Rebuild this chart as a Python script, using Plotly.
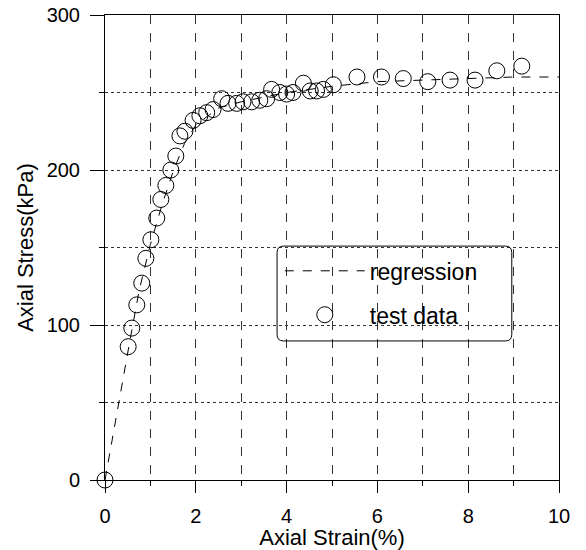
import plotly.graph_objects as go

# test data (axial strain %, axial stress kPa)
strain = [0.0, 0.51, 0.59, 0.70, 0.81, 0.90, 1.01, 1.14, 1.23, 1.34, 1.45, 1.56, 1.65, 1.76,
          1.94, 2.09, 2.24, 2.38, 2.57, 2.71, 2.90, 3.04, 3.23, 3.41, 3.56, 3.67, 3.85, 4.00,
          4.14, 4.37, 4.52, 4.66, 4.81, 5.03, 5.55, 6.09, 6.57, 7.11, 7.60, 8.15, 8.63, 9.18]
stress = [0, 86, 98, 113, 127, 143, 155, 169, 181, 190, 200, 209, 222, 225,
          232, 235, 237, 239, 246, 243, 243, 244, 244, 245, 246, 252, 250, 249,
          250, 256, 251, 251, 252, 255, 260, 260, 259, 257, 258, 258, 264, 267]

# regression curve
reg_x = [0, 0.25, 0.5, 0.75, 1.0, 1.25, 1.5, 1.75, 2.0, 2.5, 3.0, 4.0, 5.0, 6.0, 7.0, 8.0, 9.0, 10.0]
reg_y = [0, 42, 82, 122, 152, 177, 199, 217, 229, 240, 244, 250, 254, 257, 258, 259, 260, 260]

x_ticks = [0, 2, 4, 6, 8, 10]
y_ticks = [0, 100, 200, 300]

FONT = "Liberation Sans, Arial, sans-serif"

fig = go.Figure()
fig.add_trace(go.Scatter(x=reg_x, y=reg_y, mode="lines", name="regression", legendgroup="a",
                         line=dict(color="black", width=1, dash="dash"), cliponaxis=False))
fig.add_trace(go.Scatter(x=strain, y=stress, mode="markers", name="test data", legendgroup="b",
                         marker=dict(symbol="circle-open", size=16, color="black",
                                     line=dict(width=1, color="black")),
                         cliponaxis=False))

axis_font = dict(family=FONT, size=22, color="black")
tick_font = dict(family=FONT, size=20, color="black")
grid_col = "#333333"

# rounded legend frame (paper coordinates)
x0, x1, y0, y1, rx, ry = 0.379, 0.896, 0.299, 0.503, 0.014, 0.014
path = (f"M {x0+rx},{y1} L {x1-rx},{y1} Q {x1},{y1} {x1},{y1-ry} "
        f"L {x1},{y0+ry} Q {x1},{y0} {x1-rx},{y0} L {x0+rx},{y0} "
        f"Q {x0},{y0} {x0},{y0+ry} L {x0},{y1-ry} Q {x0},{y1} {x0+rx},{y1} Z")

fig.update_layout(
    width=586, height=550,
    margin=dict(l=105, r=27, t=15, b=70),
    paper_bgcolor="white", plot_bgcolor="white",
    showlegend=True,
    shapes=[dict(type="path", xref="paper", yref="paper", path=path,
                 line=dict(color="black", width=1), fillcolor="rgba(0,0,0,0)")],
    legend=dict(x=0.385, y=0.496, xanchor="left", yanchor="top",
                borderwidth=0, bgcolor="rgba(0,0,0,0)",
                font=dict(family=FONT, size=23, color="black"),
                itemwidth=80, tracegroupgap=11),
    xaxis=dict(range=[0, 10], tickvals=x_ticks, ticktext=[str(v) for v in x_ticks],
               automargin=False,
               showline=True, linecolor="black", linewidth=1, mirror=True,
               ticks="outside", ticklen=12, tickcolor="black", ticklabelstandoff=6,
               showgrid=True, gridcolor=grid_col, gridwidth=1, griddash="dash",
               minor=dict(dtick=1, tick0=0, ticks="outside", ticklen=5, tickcolor="black",
                          showgrid=True, gridcolor=grid_col, gridwidth=1, griddash="dash"),
               zeroline=False, tickfont=tick_font,
               title=dict(text="Axial Strain(%)", font=axis_font, standoff=7)),
    yaxis=dict(range=[0, 300], tickvals=y_ticks, ticktext=[str(v) for v in y_ticks],
               automargin=False,
               showline=True, linecolor="black", linewidth=1, mirror=True,
               ticks="outside", ticklen=14, tickcolor="black", ticklabelstandoff=6,
               showgrid=True, gridcolor=grid_col, gridwidth=1, griddash="dot",
               minor=dict(dtick=50, tick0=0, ticks="outside", ticklen=5, tickcolor="black",
                          showgrid=True, gridcolor=grid_col, gridwidth=1, griddash="dot"),
               zeroline=False, tickfont=tick_font,
               title=dict(text="Axial Stress(kPa)", font=axis_font, standoff=6)),
)

fig.write_html("out.html")
